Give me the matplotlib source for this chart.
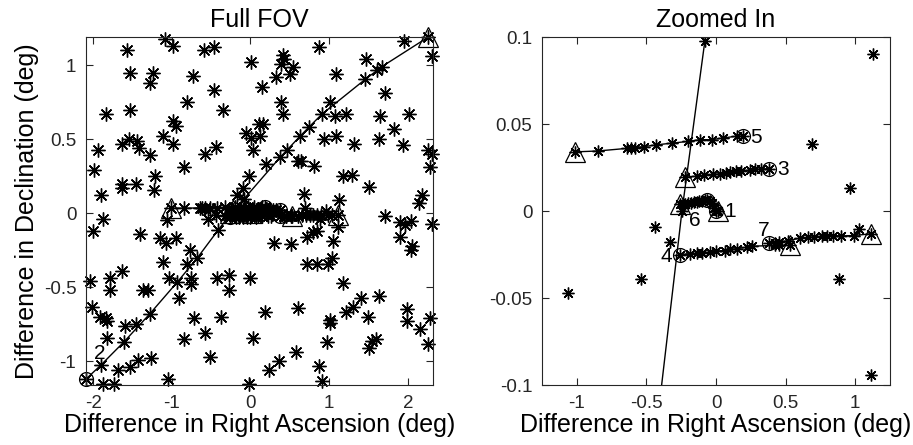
import matplotlib
matplotlib.use('Agg')
import matplotlib.pyplot as plt

plt.rcParams['font.family'] = ['Liberation Sans', 'DejaVu Sans']
plt.rcParams['axes.unicode_minus'] = False

# background stars seen in the full field of view
field_x = [-1.08, -0.99, -1.57, -1.53, -1.28, -1.24, -1.84, -1.53, -0.59, -0.46, -0.73, -0.46,
           -0.81, -0.35, -0.99, -0.95, -1.11, -0.98, -1.63, -1.54, -1.44, -1.42, -1.94, -1.99,
           -1.90, -1.63, -1.63, -1.46, -1.28, -1.21, -1.22, -0.85, -0.58, -0.44,
           0.01, 0.15, 0.33, 0.41, 0.39, 0.43, 0.50, 0.54, 0.39, 0.41, 0.87, 1.09, 1.01, 1.08, 1.22,
           -0.06, 0.01, 0.12, 0.11, 0.16, 0.03, 0.20, -0.17, -0.09, -0.02,
           0.60, 0.64, 0.81, 0.93, 1.09, 1.31, 0.68, 1.18, 1.29, 1.50,
           1.47, 1.71, 1.64, 1.63, 1.82, 2.01, 1.94, 1.95, 2.31, 2.26, 2.31, 2.28, 2.18, 2.14,
           -1.88, -2.00, -1.40, -1.15, -1.07, -0.95, -0.77, -1.11, -0.81, -1.63, -2.04, -1.79,
           -1.78, -1.37, -1.30, -1.04, -0.75, -0.75, -0.91, -0.42, -0.27, -0.27, 0.00, -2.01,
           -1.91, -1.83, -1.82, -1.59, -1.46, -1.82, -1.43, -1.27, -1.53, -1.68, -1.88, -1.73,
           -1.05, -0.72, -0.85, -0.58, -0.51, -0.37, 0.03, -0.02, 0.18, 0.23, 0.36, 0.58, 0.61,
           0.30, 0.51, 0.72, 0.84, 0.99, 1.04, 1.05, 0.72, 0.80, 0.85, 1.18, 1.01, 1.01, 0.97,
           0.87, 0.91, 1.21, 1.30, 1.40, 1.63, 1.49, 1.59, 1.54, 1.50, 1.71, 1.90, 1.97, 2.04,
           1.90, 2.05, 2.04, 1.99, 1.99, 2.15, 2.28, 2.25, 2.31]
field_y = [1.18, 1.13, 1.10, 0.95, 0.88, 0.95, 0.67, 0.70, 1.10, 1.12, 0.93, 0.83,
           0.75, 0.70, 0.62, 0.59, 0.52, 0.47, 0.47, 0.50, 0.49, 0.44, 0.43, 0.29,
           0.12, 0.20, 0.17, 0.20, 0.39, 0.25, 0.16, 0.31, 0.40, 0.45,
           1.02, 0.85, 0.92, 1.07, 1.01, 1.04, 0.94, 0.99, 0.75, 0.67, 1.12, 0.94, 0.75, 0.66, 0.67,
           0.54, 0.51, 0.52, 0.60, 0.60, 0.43, 0.33, 0.12, 0.17, 0.25,
           0.35, 0.35, 0.32, 0.50, 0.52, 0.47, 0.13, 0.25, 0.26, 0.18,
           1.04, 0.81, 0.66, 0.50, 0.57, 0.67, 0.46, 1.16, 1.06, 0.43, 0.40, 0.31, 0.12, 0.07,
           -0.04, -0.12, -0.14, -0.17, -0.20, -0.17, -0.25, -0.33, -0.34, -0.39, -0.46, -0.44,
           -0.52, -0.52, -0.52, -0.44, -0.44, -0.48, -0.57, -0.44, -0.42, -0.52, -0.44, -0.63,
           -0.70, -0.71, -0.73, -0.76, -0.75, -0.84, -0.99, -0.98, -1.04, -1.06, -1.15, -1.15,
           -1.12, -0.71, -0.85, -0.81, -0.97, -0.70, -0.84, -1.15, -0.67, -1.06, -1.00, -0.94, -0.64,
           -0.20, -0.21, -0.34, -0.34, -0.34, -0.30, -0.19, -0.16, -0.13, -0.12, -0.47, -0.72, -0.74, -0.87,
           -1.03, -1.13, -0.67, -0.63, -0.57, -0.56, -0.70, -0.85, -0.86, -0.91, -0.02, -0.06, -0.08, -0.05,
           -0.16, -0.22, -0.25, -0.65, -0.73, -0.78, -0.71, -0.88, -0.07]

# loose stars near the centre (seen in the zoomed panel)
near_x = [1.13, 0.69, 0.96, -0.44, -0.33, -0.54, -1.06, 0.88, 1.11, 1.03]
near_y = [0.090, 0.0383, 0.0135, -0.0093, -0.0179, -0.039, -0.047, -0.039, -0.0945, -0.0103]

# tracks: first point = start (triangle), last point = end (circle)
trk1_x = [0.015, -0.045, -0.03, -0.015, 0.0]
trk1_y = [0.0, 0.006, 0.0045, 0.002, 0.0]
trk2_x = [2.26, 1.67, 1.61, 1.46, 0.91, 0.74, 0.63, 0.47, 0.38, -0.08, -0.245, -0.41, -0.68,
          -0.93, -1.28, -1.61, -1.90, -2.09]
trk2_y = [1.19, 0.99, 0.965, 0.905, 0.67, 0.58, 0.52, 0.43, 0.38, 0.098, 0.0, -0.113, -0.305,
          -0.465, -0.68, -0.87, -1.025, -1.12]
trk3_x = [-0.22, -0.14, -0.09, -0.02, 0.03, 0.07, 0.10, 0.14, 0.18, 0.245, 0.28, 0.32, 0.38]
trk3_y = [0.0195, 0.020, 0.0205, 0.021, 0.0213, 0.022, 0.0225, 0.0228, 0.023, 0.0236, 0.024, 0.024, 0.0244]
trk4_x = [0.53, 0.45, 0.42, 0.26, 0.22, 0.15, 0.10, 0.065, 0.0, -0.04, -0.10, -0.14, -0.19, -0.26]
trk4_y = [-0.0198, -0.0195, -0.0198, -0.0202, -0.0208, -0.0217, -0.022, -0.0227, -0.023,
          -0.0236, -0.024, -0.0243, -0.0246, -0.025]
trk5_x = [-1.01, -0.85, -0.64, -0.61, -0.58, -0.52, -0.43, -0.32, -0.20, -0.115, -0.03, 0.05, 0.15, 0.19]
trk5_y = [0.034, 0.0345, 0.036, 0.036, 0.0365, 0.037, 0.038, 0.039, 0.040, 0.041, 0.041, 0.042, 0.043, 0.043]
trk6_x = [-0.26, -0.24, -0.22, -0.20, -0.18, -0.16, -0.14, -0.12, -0.10, -0.08, -0.065]
trk6_y = [0.004, 0.004, 0.0042, 0.0045, 0.0047, 0.005, 0.0052, 0.0055, 0.006, 0.0063, 0.0066]
trk7_x = [1.11, 0.99, 0.90, 0.84, 0.80, 0.76, 0.70, 0.66, 0.60, 0.52, 0.45, 0.42, 0.38]
trk7_y = [-0.0131, -0.0141, -0.0143, -0.0141, -0.0143, -0.0145, -0.0148, -0.0152, -0.0156,
          -0.017, -0.0178, -0.0185, -0.0186]

# track number labels
full_lab = ['2']
full_lab_x = [-1.92]
full_lab_y = [-0.95]
zoom_lab = ['1', '3', '4', '5', '6', '7']
zoom_lab_x = [0.10, 0.48, -0.36, 0.29, -0.15, 0.34]
zoom_lab_y = [0.0, 0.0236, -0.026, 0.042, -0.0055, -0.0112]

tracks = [(trk1_x, trk1_y), (trk2_x, trk2_y), (trk3_x, trk3_y), (trk4_x, trk4_y),
          (trk5_x, trk5_y), (trk6_x, trk6_y), (trk7_x, trk7_y)]

star = (8, 2, 0)
tick_col = '#262626'


def draw(ax, ms, clip, labels, lx, ly):
    ax.plot(field_x, field_y, ls='none', marker=star, ms=ms, mec='k', mew=1.0, clip_on=clip)
    ax.plot(near_x, near_y, ls='none', marker=star, ms=ms, mec='k', mew=1.0, clip_on=clip)
    for tx, ty in tracks:
        ax.plot(tx, ty, '-', color='k', lw=1.0)
        ax.plot(tx, ty, ls='none', marker=star, ms=ms, mec='k', mew=1.0, clip_on=clip)
        ax.plot(tx[0], ty[0], ls='none', marker='^', ms=14, mfc='none', mec='k', mew=0.9, clip_on=clip)
        ax.plot(tx[-1], ty[-1], ls='none', marker='o', ms=10, mfc='none', mec='k', mew=0.9, clip_on=clip)
    for s, x, y in zip(labels, lx, ly):
        ax.text(x, y, s, fontsize=15, ha='center', va='center')
    ax.tick_params(direction='in', top=True, right=True, length=5, width=0.8,
                   labelsize=13.5, colors=tick_col, pad=7)
    for sp in ax.spines.values():
        sp.set_linewidth(0.8)
        sp.set_color(tick_col)


fig = plt.figure(figsize=(9.13, 4.45), dpi=100)
ax1 = fig.add_axes([0.0942, 0.1348, 0.3801, 0.7820])
ax2 = fig.add_axes([0.5937, 0.1348, 0.3812, 0.7820])

draw(ax1, 10, False, full_lab, full_lab_x, full_lab_y)
ax1.set_xlim(-2.09, 2.32)
ax1.set_ylim(-1.16, 1.19)
ax1.set_xticks([-2, -1, 0, 1, 2])
ax1.set_yticks([-1, -0.5, 0, 0.5, 1])
ax1.set_yticklabels(['-1', '-0.5', '0', '0.5', '1'])
ax1.set_title('Full FOV', fontsize=18, pad=7)
ax1.set_xlabel('Difference in Right Ascension (deg)', fontsize=18, labelpad=1)
ax1.set_ylabel('Difference in Declination (deg)', fontsize=18, labelpad=3)

draw(ax2, 8.5, True, zoom_lab, zoom_lab_x, zoom_lab_y)
ax2.set_xlim(-1.25, 1.25)
ax2.set_ylim(-0.1, 0.1)
ax2.set_xticks([-1, -0.5, 0, 0.5, 1])
ax2.set_xticklabels(['-1', '-0.5', '0', '0.5', '1'])
ax2.set_yticks([-0.1, -0.05, 0, 0.05, 0.1])
ax2.set_yticklabels(['-0.1', '-0.05', '0', '0.05', '0.1'])
ax2.set_title('Zoomed In', fontsize=18, pad=7)
ax2.set_xlabel('Difference in Right Ascension (deg)', fontsize=18, labelpad=1)

fig.savefig('out.png', dpi=100)
